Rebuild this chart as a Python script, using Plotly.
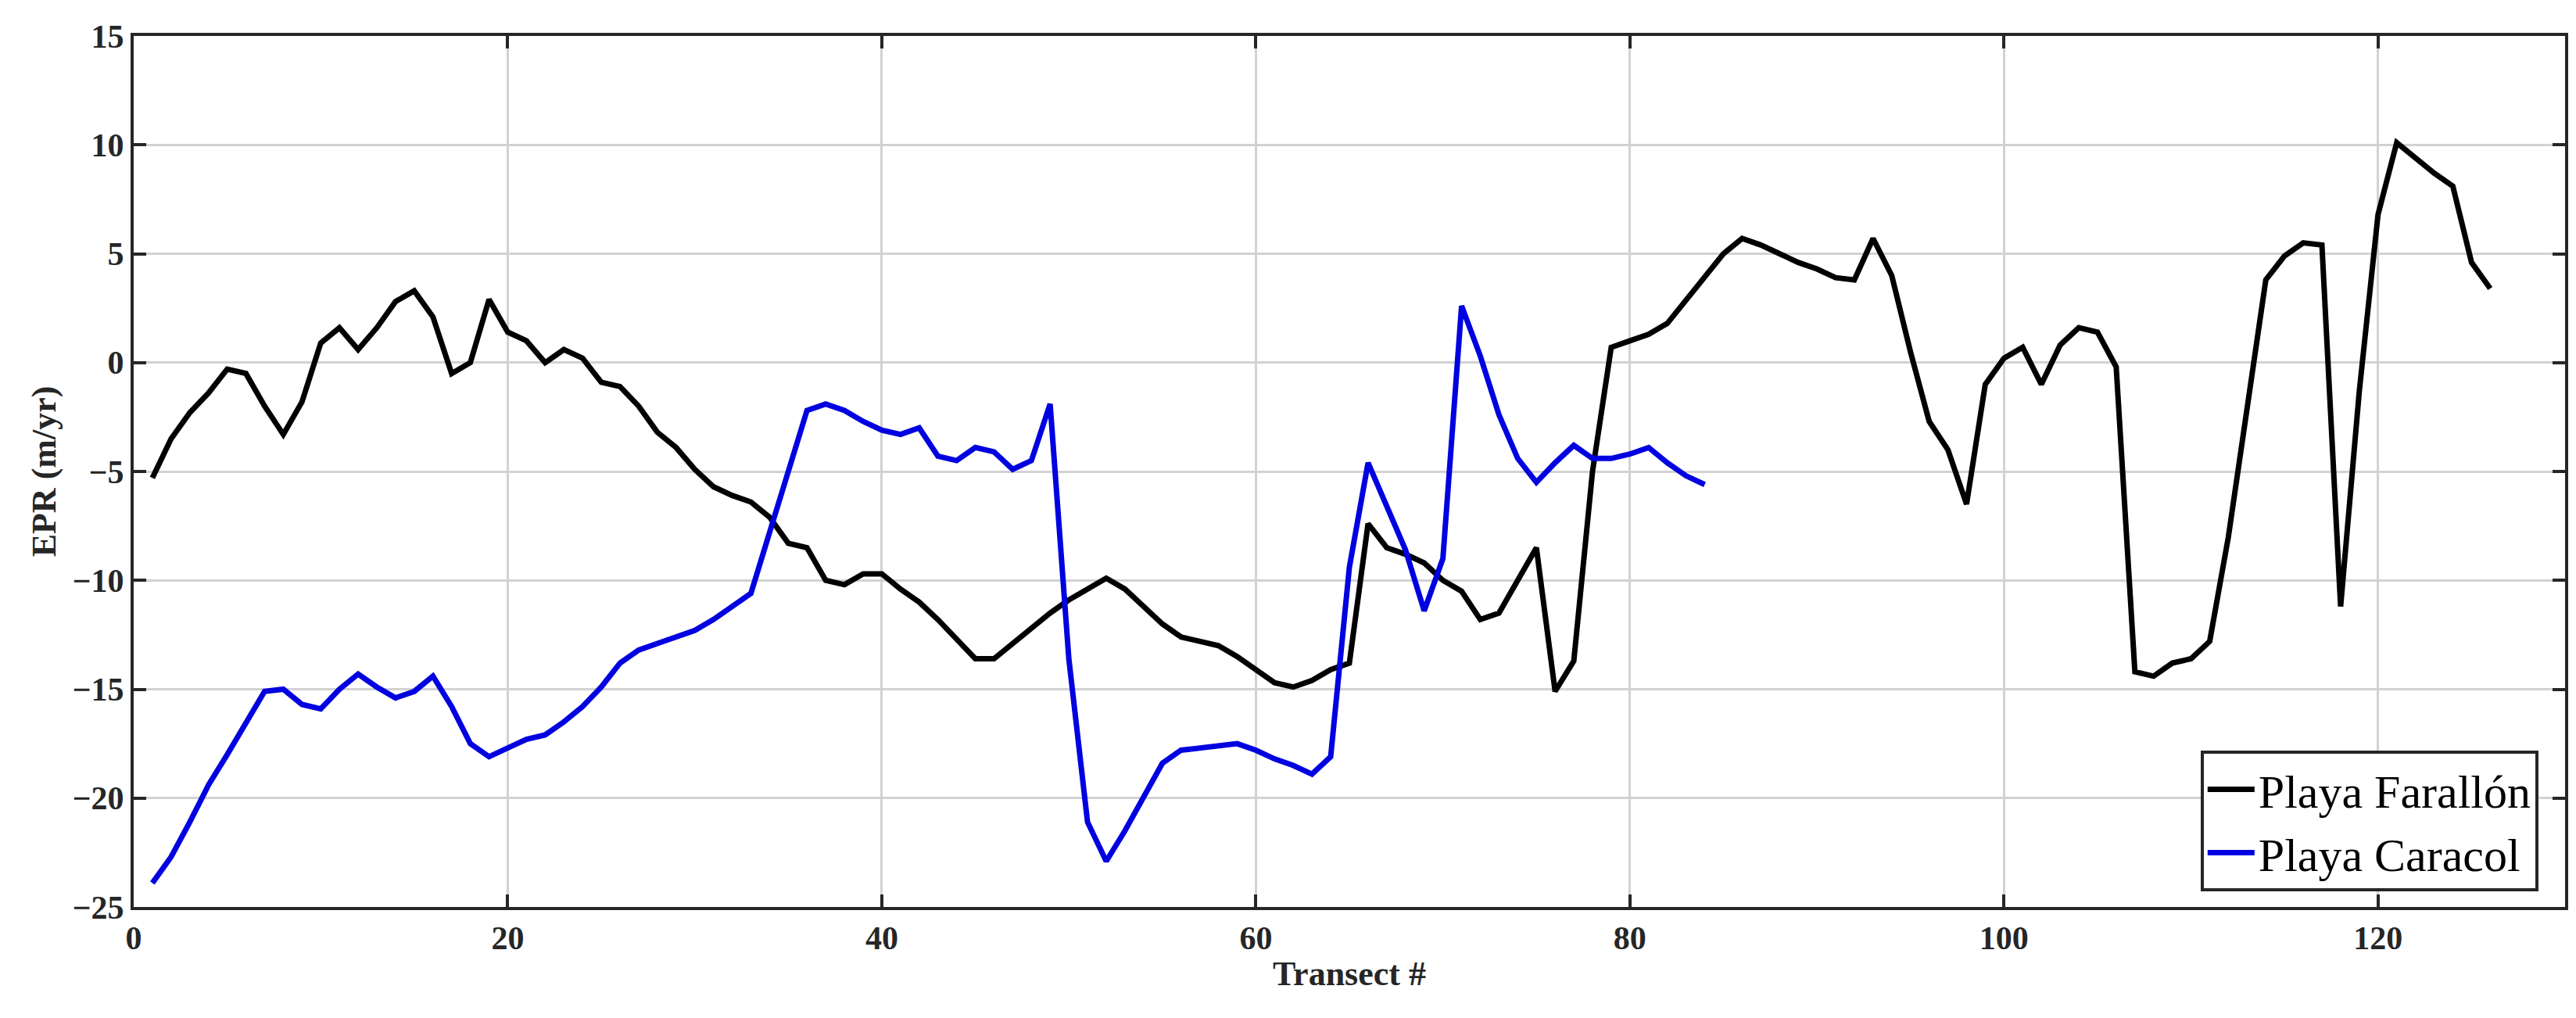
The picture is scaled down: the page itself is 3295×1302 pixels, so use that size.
import plotly.graph_objects as go

farallon_x = list(range(1, 127))
farallon_y = [-5.3,-3.5,-2.3,-1.4,-0.3,-0.5,-2.0,-3.3,-1.8,0.9,1.6,0.6,1.6,2.8,3.3,2.1,-0.5,0.0,2.9,1.4,
              1.0,0.0,0.6,0.2,-0.9,-1.1,-2.0,-3.2,-3.9,-4.9,-5.7,-6.1,-6.4,-7.1,-8.3,-8.5,-10.0,-10.2,-9.7,-9.7,
              -10.4,-11.0,-11.8,-12.7,-13.6,-13.6,-12.9,-12.2,-11.5,-10.9,-10.4,-9.9,-10.4,-11.2,-12.0,-12.6,-12.8,-13.0,-13.5,-14.1,
              -14.7,-14.9,-14.6,-14.1,-13.8,-7.4,-8.5,-8.8,-9.2,-10.0,-10.5,-11.8,-11.5,-10.0,-8.5,-15.1,-13.7,-5.0,0.7,1.0,
              1.3,1.8,2.9,4.0,5.0,5.7,5.4,5.0,4.6,4.3,3.9,3.8,5.7,4.0,0.5,-2.7,-4.0,-6.5,-1.0,0.2,
              0.7,-1.0,0.8,1.6,1.4,-0.2,-14.2,-14.4,-13.8,-13.6,-12.8,-8.0,-2.0,3.8,4.9,5.5,5.4,-11.2,-1.3,6.8,
              10.1,9.4,8.7,8.1,4.6,3.4]
caracol_x = list(range(1, 85))
caracol_y = [-23.9,-22.7,-21.1,-19.4,-18.0,-16.6,-15.1,-15.0,-15.7,-15.9,-15.0,-14.3,-14.9,-15.4,-15.1,-14.4,-15.8,-17.5,-18.1,-17.7,
             -17.3,-17.1,-16.5,-15.8,-14.9,-13.8,-13.2,-12.9,-12.6,-12.3,-11.8,-11.2,-10.6,-7.8,-4.9,-2.2,-1.9,-2.2,-2.7,-3.1,
             -3.3,-3.0,-4.3,-4.5,-3.9,-4.1,-4.9,-4.5,-1.9,-13.6,-21.1,-22.9,-21.5,-19.9,-18.4,-17.8,-17.7,-17.6,-17.5,-17.8,
             -18.2,-18.5,-18.9,-18.1,-9.4,-4.6,-6.6,-8.6,-11.4,-9.0,2.6,0.3,-2.4,-4.4,-5.5,-4.6,-3.8,-4.4,-4.4,-4.2,
             -3.9,-4.6,-5.2,-5.6]
x_ticks = [0, 20, 40, 60, 80, 100, 120]
y_ticks = list(range(-25, 16, 5))

font = "Liberation Serif"
fig = go.Figure()
fig.add_trace(go.Scatter(x=farallon_x, y=farallon_y, mode="lines", name="Playa Farallón",
                         line=dict(color="black", width=7)))
fig.add_trace(go.Scatter(x=caracol_x, y=caracol_y, mode="lines", name="Playa Caracol",
                         line=dict(color="#0000e0", width=7)))

axis_common = dict(showline=True, linecolor="#262626", linewidth=4, mirror="ticks",
                   ticks="inside", ticklen=16, tickwidth=4, tickcolor="#262626",
                   showgrid=True, gridcolor="#d2d2d2", gridwidth=3, zeroline=False,
                   tickfont=dict(family=font, size=42, color="#262626"))
fig.update_xaxes(range=[0, 130], tickvals=x_ticks, ticktext=["<b>%d</b>" % v for v in x_ticks],
                 title=dict(text="<b>Transect #</b>", font=dict(family=font, size=44, color="#262626"), standoff=8),
                 **axis_common)
fig.update_yaxes(range=[-25, 15], tickvals=y_ticks,
                 ticktext=["<b>%s</b>" % (str(v).replace("-", "\u2212")) for v in y_ticks],
                 title=dict(text="<b>EPR (m/yr)</b>", font=dict(family=font, size=44, color="#262626"), standoff=8),
                 **axis_common)

fig.update_layout(width=3295, height=1302, plot_bgcolor="white", paper_bgcolor="white",
                  margin=dict(l=163, r=22, t=38, b=150),
                  legend=dict(x=0.989, y=0.018, xanchor="right", yanchor="bottom",
                              bgcolor="white", bordercolor="#262626", borderwidth=4,
                              font=dict(family=font, size=60, color="black"),
                              itemwidth=60, tracegroupgap=0))
fig.write_html("out.html")
